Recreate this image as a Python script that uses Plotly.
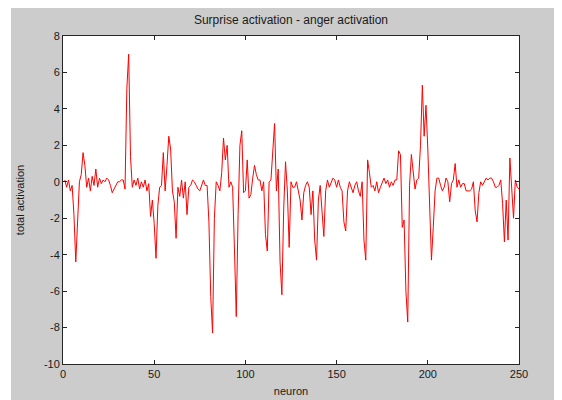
import plotly.graph_objects as go

# neuron index 1..250
neuron = list(range(1, 251))

activation_1_50 = [
    0.1, -0.3, 0.1, -0.5, -0.2, -1.8, -4.4, -2.2, 0.0, 0.4,
    1.6, 0.9, -0.3, 0.2, -0.5, 0.3, -0.2, 0.7, -0.3, 0.2,
    -0.1, 0.1, 0.0, 0.2, 0.1, -0.2, -0.6, -0.4, -0.2, 0.0,
    0.0, 0.1, 0.1, -0.4, 5.1, 7.0, 1.4, -0.3, 0.1, -0.2,
    0.2, -0.4, 0.0, -0.3, 0.1, -0.5, -0.1, -1.9, -1.0, -2.3,
]
activation_51_100 = [
    -4.2, -1.3, -0.3, -0.2, 1.6, -0.5, 0.9, 2.5, 1.8, -0.5,
    -1.1, -3.1, -0.3, -0.8, 0.1, -0.9, 0.0, -1.8, -0.3, -0.2,
    0.1, 0.0, -0.2, -0.4, -0.5, -0.2, 0.1, -0.2, -0.2, -2.2,
    -6.3, -8.3, -2.0, 0.0, -0.2, -0.5, 0.5, 2.4, 1.2, 2.0,
    -0.3, 0.0, -0.3, -3.7, -7.4, -1.8, 2.0, 2.8, -0.6, -0.5,
]
activation_101_150 = [
    1.2, -0.9, -0.7, 0.2, 0.9, 0.4, 0.1, 0.1, -0.5, 0.0,
    -2.9, -3.8, 0.0, 0.1, 1.8, 3.2, -0.5, 0.7, -4.4, -6.2,
    -1.5, 1.1, -0.5, -3.6, 0.0, -0.3, -0.3, 0.0, -0.5, -1.0,
    -2.1, -0.6, -0.2, 0.0, -0.3, -1.8, -0.5, -3.2, -4.3, -1.0,
    -0.2, -1.5, -3.0, -0.5, 0.1, -0.3, 0.0, 0.2, 0.1, -0.3,
]
activation_151_200 = [
    0.1, -0.3, -0.5, -2.2, -2.7, -0.5, 0.0, -0.3, -0.6, -0.2,
    0.0, -0.5, -0.8, 0.0, -3.2, -4.3, 1.2, 0.5, -0.3, -0.2,
    -0.5, 0.0, -0.6, -0.3, 0.0, 0.2, -0.1, 0.1, -0.3, 0.0,
    -0.2, 0.1, 0.1, 1.7, 1.5, -2.5, -2.1, -6.0, -7.7, -0.2,
    1.5, 0.5, -0.4, 0.1, 0.2, 2.0, 5.3, 2.5, 4.2, 1.8,
]
activation_201_250 = [
    -1.2, -4.3, -2.5, -0.5, 0.2, 0.2, -0.2, -0.5, -0.3, 0.2,
    0.0, -1.1, -0.1, 0.1, 1.0, -0.3, 0.1, -0.3, -0.1, -0.1,
    -0.5, -0.5, -0.5, -0.4, 0.0, -1.6, -2.2, -0.6, 0.0, -0.2,
    0.0, 0.2, 0.1, 0.2, 0.2, 0.0, -0.3, -0.3, -0.2, 0.1,
    -1.2, -3.3, -1.0, -3.2, 1.3, -0.5, -2.0, 0.1, -0.3, -0.4,
]
activation = (activation_1_50 + activation_51_100 + activation_101_150
              + activation_151_200 + activation_201_250)

x_ticks = [0, 50, 100, 150, 200, 250]
y_ticks = [-10, -8, -6, -4, -2, 0, 2, 4, 6, 8]

FONT = "Liberation Sans, Arial, sans-serif"
TXT = "#1a1a1a"
AX = "#262626"

fig = go.Figure()
fig.add_trace(go.Scatter(
    x=neuron, y=activation, mode="lines",
    line=dict(color="#ff0000", width=1),
    hoverinfo="x+y", showlegend=False,
))

axis_common = dict(
    showgrid=False, zeroline=False, showline=True, linecolor=AX, linewidth=1,
    mirror="ticks", ticks="inside", ticklen=4, tickcolor=AX, tickwidth=1,
    tickfont=dict(family=FONT, size=11, color=TXT),
)

fig.update_layout(
    width=562, height=400,
    margin=dict(l=55, r=51, t=28, b=44, autoexpand=False),
    paper_bgcolor="#cccccc", plot_bgcolor="#ffffff",
    font=dict(family=FONT, size=11, color=TXT),
    title=dict(text="Surprise activation - anger activation",
               x=0.5, xref="paper", xanchor="center",
               y=1 - 12 / 400, yref="container", yanchor="middle",
               font=dict(family=FONT, size=12, color=TXT)),
    xaxis=dict(range=[0, 250], tickvals=x_ticks, ticktext=[str(v) for v in x_ticks],
               title=dict(text="neuron", standoff=8,
                          font=dict(family=FONT, size=11, color=TXT)),
               automargin=False, **axis_common),
    yaxis=dict(range=[-10, 8], tickvals=y_ticks, ticktext=[str(v) for v in y_ticks],
               title=dict(text="total activation", standoff=17,
                          font=dict(family=FONT, size=11, color=TXT)),
               automargin=False, **axis_common),
    shapes=[
        dict(type="rect", xref="paper", yref="paper",
             x0=-0.3, x1=(3 - 55) / 456, y0=-0.3, y1=1.3,
             fillcolor="#ffffff", line=dict(width=0), layer="below"),
    ],
)

fig.write_html("out.html")
